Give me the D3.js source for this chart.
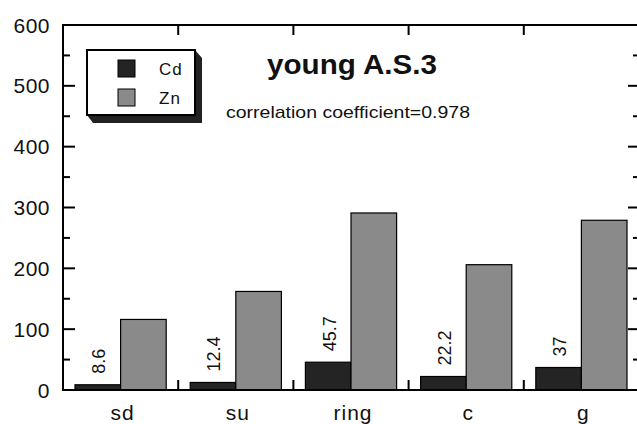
<!DOCTYPE html>
<html>
<head>
<meta charset="utf-8">
<script src="https://cdn.jsdelivr.net/npm/d3@7"></script>
<style>
	body{margin:0;background:#fff;}
	text{font-family:"Liberation Sans",Arial,sans-serif;fill:#111;}
</style>
</head>
<body>
<script>
	//chart values
	var categories=["sd","su","ring","c","g"];
	var cdValues=[8.6,12.4,45.7,22.2,37];
	var znValues=[116,162,291,206,279];
	var cdLabels=["8.6","12.4","45.7","22.2","37"];
	var yTicks=[0,100,200,300,400,500,600];
	var series=["Cd","Zn"];

	var width=637,height=424;
	var pLeft=63,pRight=639,pTop=25,pBottom=390;
	var colors={Cd:"#242424",Zn:"#8a8a8a"};

	var svg=d3.select("body").append("svg")
		.attr("width",width)
		.attr("height",height);

	var x=d3.scaleBand().domain(categories).range([pLeft,pRight]).paddingInner(0).paddingOuter(0);
	var xi=d3.scaleBand().domain(series).range([12,x.bandwidth()-12]);
	var y=d3.scaleLinear().domain([0,600]).range([pBottom,pTop]);

	var rows=categories.map(function(c,i){return {cat:c,Cd:cdValues[i],Zn:znValues[i],label:cdLabels[i]};});

	//BARS
	var g=svg.selectAll("g.grp").data(rows).enter().append("g")
		.attr("transform",function(d){return "translate("+x(d.cat)+",0)";});
	g.selectAll("rect").data(function(d){return series.map(function(s){return {s:s,v:d[s]};});}).enter()
		.append("rect")
		.attr("x",function(d){return xi(d.s);})
		.attr("width",xi.bandwidth())
		.attr("y",function(d){return y(d.v);})
		.attr("height",function(d){return pBottom-y(d.v);})
		.attr("fill",function(d){return colors[d.s];})
		.attr("stroke","#000")
		.attr("stroke-width",1.2);

	//Cd value labels
	g.append("text")
		.attr("transform",function(d){
			var cx=xi("Cd")+xi.bandwidth()/2+1, cy=y(d.Cd)-11;
			return "translate("+cx+","+cy+") rotate(-90)";})
		.attr("dy","0.35em")
		.attr("font-size",18)
		.text(function(d){return d.label;});

	//AXES FRAME
	var axis=svg.append("g").attr("stroke","#000").attr("stroke-width",2);
	axis.append("line").attr("x1",pLeft).attr("x2",pLeft).attr("y1",pTop).attr("y2",pBottom);
	axis.append("line").attr("x1",pLeft-1).attr("x2",pRight).attr("y1",pTop).attr("y2",pTop);
	axis.append("line").attr("x1",pLeft-1).attr("x2",pRight).attr("y1",pBottom).attr("y2",pBottom);
	axis.append("line").attr("x1",pRight).attr("x2",pRight).attr("y1",pTop).attr("y2",pBottom);

	//y ticks (major + minor, both sides, inward)
	var minor=d3.range(50,600,100);
	yTicks.forEach(function(t){
		axis.append("line").attr("x1",pLeft).attr("x2",pLeft+12).attr("y1",y(t)).attr("y2",y(t));
		axis.append("line").attr("x1",pRight-11).attr("x2",pRight).attr("y1",y(t)).attr("y2",y(t));
	});
	minor.forEach(function(t){
		axis.append("line").attr("x1",pLeft).attr("x2",pLeft+7).attr("y1",y(t)).attr("y2",y(t));
		axis.append("line").attr("x1",pRight-6).attr("x2",pRight).attr("y1",y(t)).attr("y2",y(t));
	});
	//x ticks at category boundaries
	categories.slice(1).forEach(function(c){
		var xx=x(c);
		axis.append("line").attr("x1",xx).attr("x2",xx).attr("y1",pTop).attr("y2",pTop+10);
		axis.append("line").attr("x1",xx).attr("x2",xx).attr("y1",pBottom).attr("y2",pBottom-10);
	});

	svg.selectAll("text.ylab").data(yTicks).enter().append("text")
		.attr("class","ylab")
		.attr("x",50)
		.attr("y",function(d){return y(d);})
		.attr("dy","0.36em")
		.attr("text-anchor","end")
		.attr("font-size",21)
		.attr("letter-spacing",0.5)
		.text(function(d){return d;});

	svg.selectAll("text.xlab").data(categories).enter().append("text")
		.attr("class","xlab")
		.attr("x",function(d){return x(d)+x.bandwidth()/2+2;})
		.attr("y",420)
		.attr("text-anchor","middle")
		.attr("font-size",21)
		.attr("letter-spacing",1)
		.text(function(d){return d;});

	//LEGEND
	var lg=svg.append("g");
	lg.append("path")
		.attr("d","M87,115 L93,123 L202,123 L202,58 L195,50 L195,115 Z")
		.attr("fill","#222");
	lg.append("rect").attr("x",87).attr("y",50).attr("width",108).attr("height",65)
		.attr("fill","#fff").attr("stroke","#000").attr("stroke-width",2);
	series.forEach(function(s,i){
		lg.append("rect").attr("x",118).attr("y",60+i*29).attr("width",17).attr("height",17)
			.attr("fill",colors[s]).attr("stroke","#000").attr("stroke-width",1);
		lg.append("text").attr("x",159).attr("y",75+i*29).attr("font-size",17)
			.attr("letter-spacing",1).text(s);
	});

	//TITLES
	svg.append("text").attr("x",267).attr("y",74).attr("font-size",27)
		.attr("font-weight","bold").attr("textLength",170).attr("lengthAdjust","spacingAndGlyphs")
		.text("young A.S.3");
	svg.append("text").attr("x",226).attr("y",118).attr("font-size",17)
		.attr("textLength",244).attr("lengthAdjust","spacingAndGlyphs")
		.text("correlation coefficient=0.978");
</script>
</body>
</html>
